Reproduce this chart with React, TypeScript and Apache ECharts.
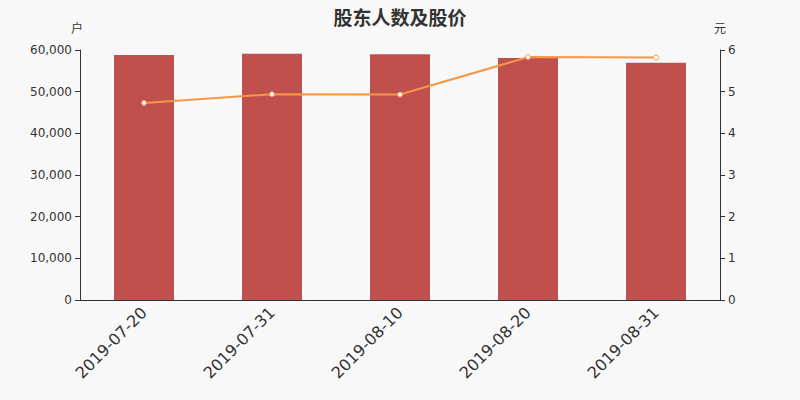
import React, { useEffect, useRef } from "react";
import * as echarts from "echarts";

const categories = ["2019-07-20", "2019-07-31", "2019-08-10", "2019-08-20", "2019-08-31"];
const holders = [58800, 59100, 59000, 58100, 56950];
const prices = [4.73, 4.94, 4.93, 5.83, 5.82];

export default function App() {
  const ref = useRef<HTMLDivElement>(null);
  useEffect(() => {
    document.body.style.margin = "0";
    const chart = echarts.init(ref.current!, null, { renderer: "svg" });
    chart.setOption({
      animation: false,
      backgroundColor: "#f8f8f8",
      textStyle: { fontFamily: "DejaVu Sans, Noto Sans CJK SC, sans-serif" },
      title: {
        text: "股东人数及股价",
        left: "center",
        top: 2,
        textStyle: {
          fontSize: 19,
          fontWeight: "bold",
          color: "#333",
          fontFamily: "Noto Sans CJK SC, sans-serif",
        },
      },
      grid: { left: 80, right: 80, top: 50, bottom: 100 },
      xAxis: {
        type: "category",
        data: categories,
        axisLine: { lineStyle: { color: "#333" } },
        axisTick: { lineStyle: { color: "#333" } },
        axisLabel: { rotate: 45, fontSize: 16, color: "#333", margin: 10 },
      },
      yAxis: [
        {
          type: "value",
          name: "户",
          min: 0,
          max: 60000,
          interval: 10000,
          nameTextStyle: { color: "#333", fontSize: 12, padding: [0, 6, 0, 0] },
          axisLine: { show: true, lineStyle: { color: "#333" } },
          axisTick: { show: true },
          splitLine: { show: false },
          axisLabel: {
            color: "#333",
            fontSize: 12,
            formatter: (v: number) => v.toLocaleString("en-US"),
          },
        },
        {
          type: "value",
          name: "元",
          min: 0,
          max: 6,
          interval: 1,
          nameTextStyle: { color: "#333", fontSize: 12 },
          axisLine: { show: true, lineStyle: { color: "#333" } },
          axisTick: { show: true },
          splitLine: { show: false },
          axisLabel: { color: "#333", fontSize: 12 },
        },
      ],
      series: [
        {
          type: "bar",
          data: holders,
          barWidth: 60,
          itemStyle: { color: "#c0504d" },
        },
        {
          type: "line",
          yAxisIndex: 1,
          data: prices,
          symbol: "circle",
          symbolSize: 5,
          lineStyle: { color: "#f79646", width: 2 },
          itemStyle: { color: "#fff", borderColor: "#f79646", borderWidth: 1 },
        },
      ],
    });
    return () => chart.dispose();
  }, []);
  return <div ref={ref} style={{ width: 800, height: 400 }} />;
}
